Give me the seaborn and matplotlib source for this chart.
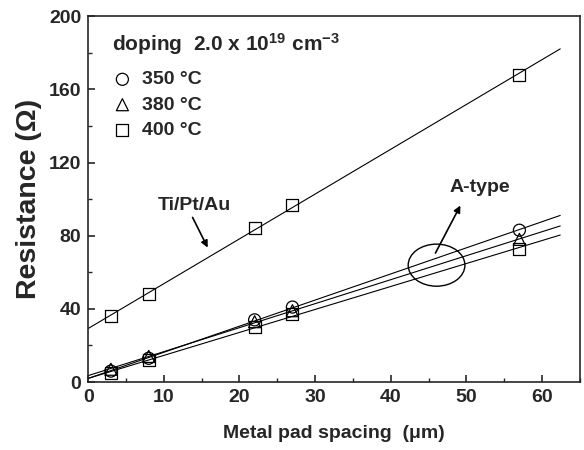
import matplotlib
matplotlib.use("Agg")
import matplotlib.pyplot as plt
from matplotlib.patches import Ellipse
import seaborn as sns

# pad spacing (um) and measured resistance (ohm)
spacing = [3, 8, 22, 27, 57]
r_350 = [6, 13, 34, 41, 83]
r_380 = [7, 14, 33, 39, 78]
r_400 = [5, 12, 30, 37, 73]
r_tiptau = [36, 48, 84, 97, 168]

labels = ["350 \u00b0C", "380 \u00b0C", "400 \u00b0C"]
markers = ["o", "^", "s"]

sns.set_style("ticks")
plt.rcParams["font.family"] = ["Liberation Sans", "DejaVu Sans"]
plt.rcParams["font.weight"] = "bold"
plt.rcParams["axes.labelweight"] = "bold"
plt.rcParams["mathtext.fontset"] = "custom"
plt.rcParams["mathtext.rm"] = "Liberation Sans:bold"
plt.rcParams["mathtext.it"] = "Liberation Sans:bold"
plt.rcParams["mathtext.bf"] = "Liberation Sans:bold"

fig = plt.figure(figsize=(5.84, 4.5), dpi=100)
ax = fig.add_axes([0.151, 0.151, 0.842, 0.813])

# fitted lines drawn over the fitting range only
ax.set_xlim(0, 62.4)
line_kws = dict(color="k", lw=0.8)
for ys in [r_350, r_380, r_400, r_tiptau]:
    sns.regplot(x=spacing, y=ys, ax=ax, scatter=False, ci=None,
                truncate=False, line_kws=line_kws)

for ys, m, lab in zip([r_350, r_380, r_400], markers, labels):
    sns.scatterplot(x=spacing, y=ys, ax=ax, marker=m, s=75,
                    facecolor="none", edgecolor="k", linewidth=0.9,
                    label=lab, zorder=3)
sns.scatterplot(x=spacing, y=r_tiptau, ax=ax, marker="s", s=75,
                facecolor="none", edgecolor="k", linewidth=0.9, zorder=3)

ax.set_xlim(0, 65)
ax.set_ylim(0, 200)
ax.set_xticks(range(0, 61, 10))
ax.set_xticks(range(5, 66, 10), minor=True)
ax.set_yticks(range(0, 201, 40))
ax.set_yticks(range(20, 201, 40), minor=True)
ax.tick_params(which="both", direction="in", top=False, right=False)
ax.tick_params(which="major", length=5, width=1.2, labelsize=14, pad=5)
ax.tick_params(which="minor", length=3, width=1.0)
for s in ax.spines.values():
    s.set_linewidth(1.2)

ax.set_xlabel("Metal pad spacing  (\u03bcm)", fontsize=14, labelpad=14)
ax.set_ylabel("Resistance (\u03a9)", fontsize=20.5, labelpad=5)

ax.text(3.2, 185, "doping  2.0 x 10$^{19}$ cm$^{-3}$", fontsize=15,
        va="center", ha="left")

leg = ax.legend(loc="upper left", bbox_to_anchor=(0.03, 0.872), frameon=False,
                fontsize=14, handletextpad=0.4, labelspacing=0.4,
                borderaxespad=0, handlelength=1.2)

# annotations
ax.text(14.1, 96.7, "Ti/Pt/Au", fontsize=14, ha="center", va="center")
ax.annotate("", xy=(15.8, 73.5), xytext=(13.8, 90),
            arrowprops=dict(arrowstyle="-|>", color="k", lw=1.2,
                            mutation_scale=10, shrinkA=0, shrinkB=0))
ax.text(51.8, 106.6, "A-type", fontsize=14, ha="center", va="center")
ax.annotate("", xy=(49.2, 96.5), xytext=(45.9, 70.5),
            arrowprops=dict(arrowstyle="-|>", color="k", lw=1.2,
                            mutation_scale=10, shrinkA=0, shrinkB=0))
ax.add_patch(Ellipse((46.05, 63.9), 7.5, 23, fill=False, color="k", lw=1))

fig.savefig("out.png", dpi=100)
